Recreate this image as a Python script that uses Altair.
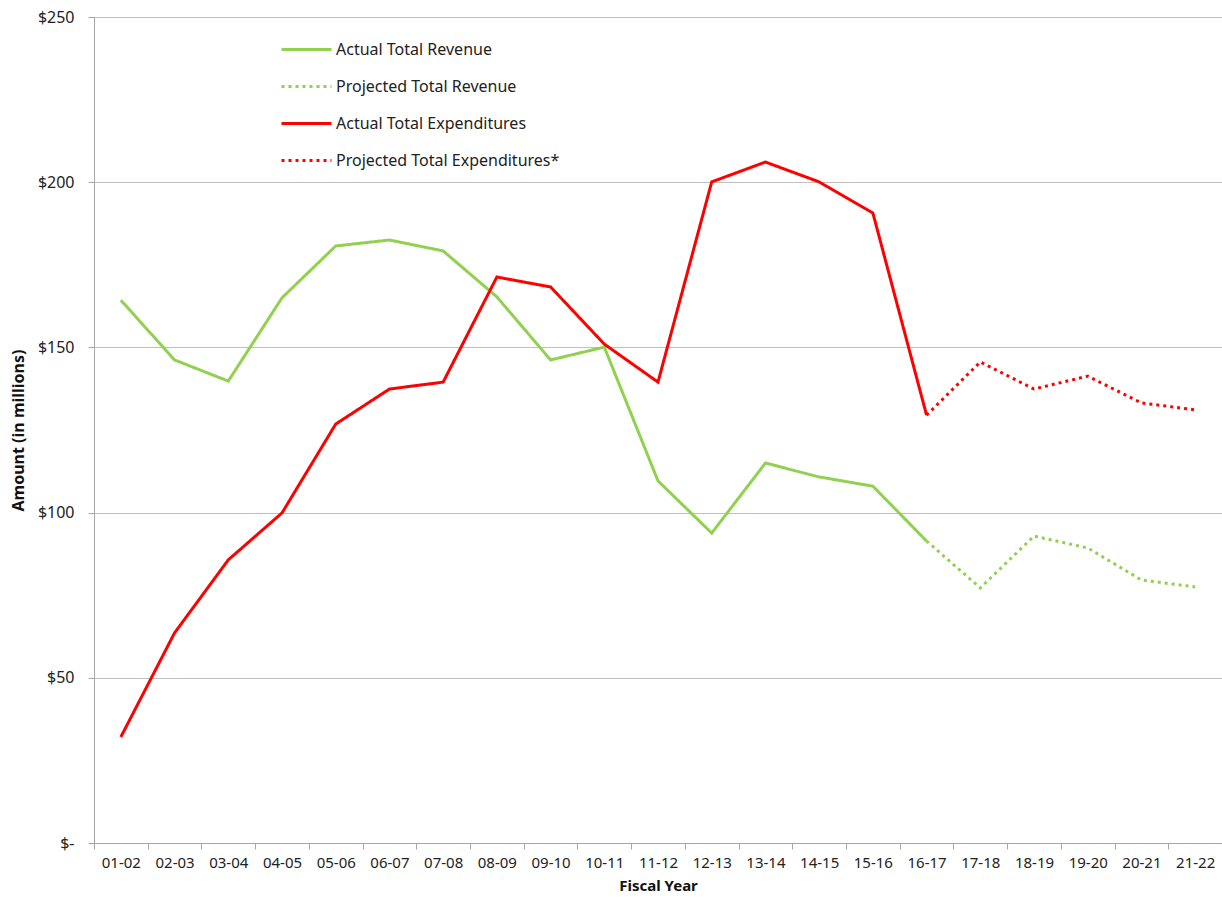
import altair as alt
import pandas as pd

years = ["01-02", "02-03", "03-04", "04-05", "05-06", "06-07", "07-08", "08-09", "09-10", "10-11",
         "11-12", "12-13", "13-14", "14-15", "15-16", "16-17", "17-18", "18-19", "19-20", "20-21", "21-22"]

actual_revenue = [164.3, 146.2, 139.8, 165.0, 180.7, 182.5, 179.2, 165.3, 146.2, 150.1,
                  109.6, 93.8, 115.0, 110.8, 108.0, 91.4]
projected_revenue = [91.4, 77.2, 92.9, 89.3, 79.6, 77.5]
actual_expend = [32.1, 63.6, 85.7, 99.9, 126.8, 137.4, 139.5, 171.3, 168.3, 151.0,
                 139.5, 200.1, 206.1, 200.1, 190.7, 129.5]
projected_expend = [129.5, 145.6, 137.4, 141.3, 133.2, 131.1]

series_names = ["Actual Total Revenue", "Projected Total Revenue",
                "Actual Total Expenditures", "Projected Total Expenditures*"]
series_colors = ["#92D050", "#92D050", "#FF0000", "#FF0000"]
series_dash = [[1, 0], [3, 4], [1, 0], [3, 4]]

rows = []
for name, vals, start in [
    (series_names[0], actual_revenue, 0),
    (series_names[1], projected_revenue, 15),
    (series_names[2], actual_expend, 0),
    (series_names[3], projected_expend, 15),
]:
    for i, v in enumerate(vals):
        rows.append({"year": years[start + i], "value": v, "series": name})
df = pd.DataFrame(rows)

FONT = "Noto Sans"

def make_legend():
    return alt.Legend(title=None, orient="none", legendX=186, legendY=6,
                      symbolType="stroke", symbolSize=2500,
                      symbolStrokeWidth=3, labelFontSize=16,
                      labelFont=FONT, labelColor="#222222",
                      labelLimit=400, rowPadding=2, labelOffset=3)

chart = alt.Chart(df).mark_line(strokeWidth=3).encode(
    x=alt.X("year:O", sort=years,
            scale=alt.Scale(type="band", domain=years, paddingInner=0, paddingOuter=0),
            axis=alt.Axis(title="Fiscal Year", labelAngle=0, tickBand="extent",
                          tickSize=6, labelPadding=6, titlePadding=8,
                          domainColor="#A6A6A6", tickColor="#A6A6A6",
                          labelFontSize=15, labelColor="#222222", labelFont=FONT,
                          titleFont=FONT, titleFontSize=15, titleFontWeight="bold",
                          titleColor="#111111")),
    y=alt.Y("value:Q",
            scale=alt.Scale(domain=[0, 250], nice=False),
            axis=alt.Axis(title="Amount (in millions)", values=[0, 50, 100, 150, 200, 250],
                          labelExpr="datum.value == 0 ? '$-' : '$' + datum.value",
                          tickSize=6, labelPadding=14, titlePadding=11,
                          gridColor="#BFBFBF", grid=True,
                          domainColor="#A6A6A6", tickColor="#A6A6A6",
                          labelFontSize=16, labelColor="#222222", labelFont=FONT,
                          titleFont=FONT, titleFontSize=16, titleFontWeight="bold",
                          titleColor="#111111")),
    color=alt.Color("series:N",
                    scale=alt.Scale(domain=series_names, range=series_colors),
                    legend=make_legend()),
    strokeDash=alt.StrokeDash("series:N",
                              scale=alt.Scale(domain=series_names, range=series_dash),
                              legend=make_legend()),
    order=alt.Order("series:N"),
).properties(
    width=1128, height=826,
    autosize=alt.AutoSizeParams(type="none"),
    padding={"left": 94, "top": 17, "right": 0, "bottom": 60},
).configure_view(stroke=None).configure(background="white")

chart.save("out.html", embed_options={"renderer": "svg", "actions": False})
